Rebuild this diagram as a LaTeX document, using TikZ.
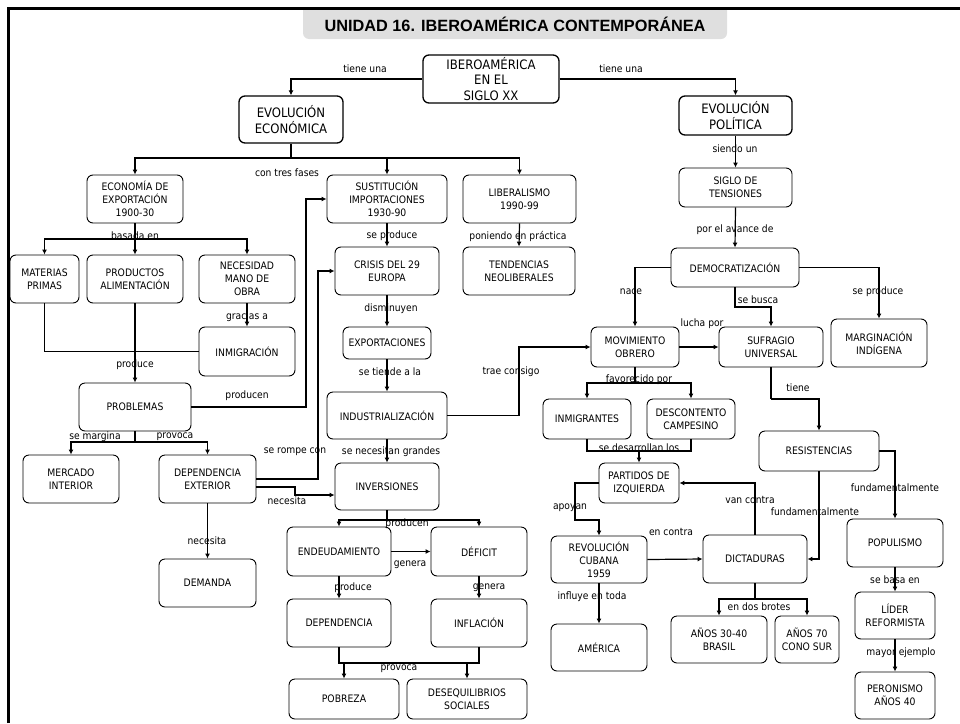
\documentclass[tikz,border=0pt]{standalone}
\usepackage{fontspec}
\setmainfont{DejaVu Sans Condensed}
\newfontfamily\titulofont{Liberation Sans}
\usetikzlibrary{arrows.meta}

\begin{document}
\begin{tikzpicture}[x=1pt, y=-1pt,
	caja/.style={draw, line width=0.9pt, rounded corners=6pt, align=center, inner sep=0pt, font=\fontsize{10.3}{12.8}\selectfont},
	grande/.style={caja, line width=1.3pt, font=\fontsize{13}{15.8}\selectfont},
	etiq/.style={inner sep=0pt, font=\fontsize{10.2}{12}\selectfont},
	linea/.style={line width=1.2pt},
	flecha/.style={linea, -{Latex[length=5pt,width=5pt]}}]
			\useasboundingbox (0,0) rectangle (960,723);
			%Titulo y marco
			\fill[gray!25] (303,8) {[rounded corners=6pt] -- (303,39) -- (727,39)} -- (727,8) -- cycle;
			\node[font=\titulofont\fontsize{16.3}{18}\selectfont\bfseries] (Titulo) at (515,24) {UNIDAD 16. IBEROAMÉRICA CONTEMPORÁNEA};
			\draw[line width=3pt] (8,723) -- (8,8) -- (960,8);
			%Nodos del mapa
			\node[grande, minimum width=136, minimum height=48] (Ibero) at (491,79) {IBEROAMÉRICA\\EN EL\\SIGLO XX};
			\node[grande, minimum width=104, minimum height=47] (EvEco) at (291,119.5) {EVOLUCIÓN\\ECONÓMICA};
			\node[grande, minimum width=113, minimum height=39] (EvPol) at (735.5,115.5) {EVOLUCIÓN\\POLÍTICA};
			\node[caja, minimum width=96, minimum height=48] (Econ) at (135,199) {ECONOMÍA DE\\EXPORTACIÓN\\1900-30};
			\node[caja, minimum width=120, minimum height=48] (Sust) at (387,199) {SUSTITUCIÓN\\IMPORTACIONES\\1930-90};
			\node[caja, minimum width=113, minimum height=48] (Lib) at (519.5,199) {LIBERALISMO\\1990-99};
			\node[caja, minimum width=113, minimum height=39] (Siglo) at (735.5,187.5) {SIGLO DE\\TENSIONES};
			\node[caja, minimum width=69, minimum height=48] (Materias) at (44.5,279) {MATERIAS\\PRIMAS};
			\node[caja, minimum width=96, minimum height=48] (Productos) at (135,279) {PRODUCTOS\\ALIMENTACIÓN};
			\node[caja, minimum width=96, minimum height=48] (Necesidad) at (247,279) {NECESIDAD\\MANO DE\\OBRA};
			\node[caja, minimum width=104, minimum height=48] (Crisis) at (387,271) {CRISIS DEL 29\\EUROPA};
			\node[caja, minimum width=112, minimum height=48] (Tend) at (519,271) {TENDENCIAS\\NEOLIBERALES};
			\node[caja, minimum width=128, minimum height=39] (Democ) at (735,267.5) {DEMOCRATIZACIÓN};
			\node[caja, minimum width=96, minimum height=49] (Inmigracion) at (247,351.5) {INMIGRACIÓN};
			\node[caja, minimum width=88, minimum height=32] (Export) at (387,343) {EXPORTACIONES};
			\node[caja, minimum width=88, minimum height=40] (MovObr) at (635,347) {MOVIMIENTO\\OBRERO};
			\node[caja, minimum width=104, minimum height=40] (Sufragio) at (771,347) {SUFRAGIO\\UNIVERSAL};
			\node[caja, minimum width=96, minimum height=48] (Margin) at (879,343) {MARGINACIÓN\\INDÍGENA};
			\node[caja, minimum width=112, minimum height=48] (Problemas) at (135,407) {PROBLEMAS};
			\node[caja, minimum width=120, minimum height=47] (Indust) at (387,415.5) {INDUSTRIALIZACIÓN};
			\node[caja, minimum width=88, minimum height=40] (Inmigrantes) at (587,419) {INMIGRANTES};
			\node[caja, minimum width=88, minimum height=40] (Descontento) at (691,419) {DESCONTENTO\\CAMPESINO};
			\node[caja, minimum width=120, minimum height=40] (Resist) at (819,451) {RESISTENCIAS};
			\node[caja, minimum width=96, minimum height=48] (Mercado) at (71,479) {MERCADO\\INTERIOR};
			\node[caja, minimum width=97, minimum height=48] (DepExt) at (207.5,479) {DEPENDENCIA\\EXTERIOR};
			\node[caja, minimum width=104, minimum height=47] (Inversiones) at (387,486.5) {INVERSIONES};
			\node[caja, minimum width=80, minimum height=40] (Partidos) at (639,483) {PARTIDOS DE\\IZQUIERDA};
			\node[caja, minimum width=104, minimum height=49] (Endeu) at (339,551.5) {ENDEUDAMIENTO};
			\node[caja, minimum width=96, minimum height=49] (Deficit) at (479,551.5) {DÉFICIT};
			\node[caja, minimum width=96, minimum height=48] (Populismo) at (895,543) {POPULISMO};
			\node[caja, minimum width=96, minimum height=47] (Revol) at (599,559.5) {REVOLUCIÓN\\CUBANA\\1959};
			\node[caja, minimum width=104, minimum height=48] (Dict) at (755,559) {DICTADURAS};
			\node[caja, minimum width=97, minimum height=48] (Demanda) at (207.5,583) {DEMANDA};
			\node[caja, minimum width=104, minimum height=48] (Dependencia) at (339,623) {DEPENDENCIA};
			\node[caja, minimum width=96, minimum height=48] (Inflacion) at (479,623) {INFLACIÓN};
			\node[caja, minimum width=80, minimum height=47] (Lider) at (895,615.5) {LÍDER\\REFORMISTA};
			\node[caja, minimum width=96, minimum height=47] (America) at (599,647.5) {AMÉRICA};
			\node[caja, minimum width=96, minimum height=47] (Anos3040) at (719,639.5) {AÑOS 30-40\\BRASIL};
			\node[caja, minimum width=64, minimum height=47] (Anos70) at (807,639.5) {AÑOS 70\\CONO SUR};
			\node[caja, minimum width=110, minimum height=40] (Pobreza) at (344,699) {POBREZA};
			\node[caja, minimum width=120, minimum height=40] (Deseq) at (467,699) {DESEQUILIBRIOS\\SOCIALES};
			\node[caja, minimum width=80, minimum height=47] (Peronismo) at (895,695.5) {PERONISMO\\AÑOS 40};
			%Puntos de reparto
			\coordinate (rEco) at (291,158);
			\coordinate (rExp) at (135,239);
			\coordinate (rProd) at (306,199);
			\coordinate (rProb) at (135,442);
			\coordinate (rRompe) at (318,271);
			\coordinate (rTrae) at (519,347);
			\coordinate (rInv) at (387,520);
			\coordinate (rProv) at (409,663);
			\coordinate (rBusca) at (735,307);
			\coordinate (rMov) at (635,383);
			\coordinate (rPart) at (639,451);
			\coordinate (rSuf) at (771,399);
			\coordinate (rApoy) at (575,520);
			\coordinate (rDict) at (755,599);
			%Conexiones
			\draw[flecha] (Ibero.west) -| (EvEco.north);
			\draw[flecha] (Ibero.east) -| (EvPol.north);
			\draw[linea] (EvEco.south) -- (rEco);
			\draw[flecha] (rEco) -| (Econ.north);
			\draw[flecha] (rEco) -| (Sust.north);
			\draw[flecha] (rEco) -| (Lib.north);
			\draw[flecha] (EvPol.south) -- (Siglo.north);
			\draw[flecha] (Siglo.south) -- (Democ.north);
			\draw[linea] (Econ.south) -- (rExp);
			\draw[flecha] (rExp) -| (Materias.north);
			\draw[flecha] (rExp) -| (Productos.north);
			\draw[flecha] (rExp) -| (Necesidad.north);
			\draw[flecha] (Necesidad.south) -- (Inmigracion.north);
			\draw[linea] (Materias.south) |- (Inmigracion.west);
			\draw[flecha] (Productos.south) -- (Problemas.north);
			\draw[flecha] (Problemas.east) -| (rProd) -- (Sust.west);
			\draw[linea] (Problemas.south) -- (rProb);
			\draw[flecha] (rProb) -| (Mercado.north);
			\draw[flecha] (rProb) -| (DepExt.north);
			\draw[flecha] (DepExt.south) -- (Demanda.north);
			\draw[flecha] (DepExt.east) -| (rRompe) -- (Crisis.west);
			\draw[flecha] ([yshift=-8pt]DepExt.east) -- (295,487) -- (295,495) -- ([yshift=-8.5pt]Inversiones.west);
			\draw[flecha] (Sust.south) -- (Crisis.north);
			\draw[flecha] (Lib.south) -- (Tend.north);
			\draw[flecha] (Crisis.south) -- (Export.north);
			\draw[flecha] (Export.south) -- (Indust.north);
			\draw[flecha] (Indust.south) -- (Inversiones.north);
			\draw[flecha] (Indust.east) -| (rTrae) -- (MovObr.west);
			\draw[linea] (Inversiones.south) -- (rInv);
			\draw[flecha] (rInv) -| (Endeu.north);
			\draw[flecha] (rInv) -| (Deficit.north);
			\draw[flecha] (Endeu.east) -- (Deficit.west);
			\draw[flecha] (Endeu.south) -- (Dependencia.north);
			\draw[flecha] (Deficit.south) -- (Inflacion.north);
			\draw[linea] (Dependencia.south) |- (rProv) -| (Inflacion.south);
			\draw[flecha] (Pobreza.north |- rProv) -- (Pobreza.north);
			\draw[flecha] (Deseq.north |- rProv) -- (Deseq.north);
			\draw[flecha] (Democ.west) -| (MovObr.north);
			\draw[flecha] (Democ.south) -- (rBusca) -| (Sufragio.north);
			\draw[flecha] (Democ.east) -| (Margin.north);
			\draw[flecha] (MovObr.east) -- (Sufragio.west);
			\draw[linea] (MovObr.south) -- (rMov);
			\draw[flecha] (rMov) -| (Inmigrantes.north);
			\draw[flecha] (rMov) -| (Descontento.north);
			\draw[linea] (Inmigrantes.south) |- (rPart) -| (Descontento.south);
			\draw[flecha] (rPart) -- (Partidos.north);
			\draw[linea] (Sufragio.south) -- (rSuf);
			\draw[flecha] (rSuf) -| (Resist.north);
			\draw[flecha] (Resist.east) -| (Populismo.north);
			\draw[flecha] (Resist.south) |- (Dict.east);
			\draw[flecha] (Dict.north) |- (Partidos.east);
			\draw[flecha] (Partidos.west) -| (rApoy) -| (Revol.north);
			\draw[flecha] (Revol.east) -- (Dict.west);
			\draw[flecha] (Revol.south) -- (America.north);
			\draw[linea] (Dict.south) -- (rDict);
			\draw[flecha] (rDict) -| (Anos3040.north);
			\draw[flecha] (rDict) -| (Anos70.north);
			\draw[flecha] (Populismo.south) -- (Lider.north);
			\draw[flecha] (Lider.south) -- (Peronismo.north);
			%Etiquetas de las conexiones
			\node[etiq] (eTiene1) at (365,69) {tiene una};
			\node[etiq] (eTiene2) at (621,69) {tiene una};
			\node[etiq] (eFases) at (287,173) {con tres fases};
			\node[etiq] (eSiendo) at (735,149) {siendo un};
			\node[etiq] (eBasada) at (135,236) {basada en};
			\node[etiq] (eProduce1) at (392,236) {se produce};
			\node[etiq] (ePoniendo) at (518,236) {poniendo en práctica};
			\node[etiq] (eAvance) at (735,230) {por el avance de};
			\node[etiq] (eGracias) at (247,317) {gracias a};
			\node[etiq] (eDismin) at (391,309) {disminuyen};
			\node[etiq] (eNace) at (631,292) {nace};
			\node[etiq] (eBusca) at (758,300) {se busca};
			\node[etiq] (eProduce2) at (878,292) {se produce};
			\node[etiq] (eLucha) at (702,324) {lucha por};
			\node[etiq] (eProduce3) at (135,365) {produce};
			\node[etiq] (eTiende) at (390,372) {se tiende a la};
			\node[etiq] (eTrae) at (511,372) {trae consigo};
			\node[etiq] (eFavor) at (639,380) {favorecido por};
			\node[etiq] (eTiene3) at (798,388) {tiene};
			\node[etiq] (eProducen1) at (247,396) {producen};
			\node[etiq] (eMargina) at (95,437) {se margina};
			\node[etiq] (eProvoca1) at (175,437) {provoca};
			\node[etiq] (eDesarr) at (639,448) {se desarrollan los};
			\node[etiq] (eRompe) at (295,452) {se rompe con};
			\node[etiq] (eNecesitan) at (391,452) {se necesitan grandes};
			\node[etiq] (eFund1) at (895,488) {fundamentalmente};
			\node[etiq] (eVan) at (750,500) {van contra};
			\node[etiq] (eNecesita1) at (287,501) {necesita};
			\node[etiq] (eApoyan) at (570,508) {apoyan};
			\node[etiq] (eFund2) at (815,512) {fundamentalmente};
			\node[etiq] (eProducen2) at (407,524) {producen};
			\node[etiq] (eContra) at (671,532) {en contra};
			\node[etiq] (eNecesita2) at (207,541) {necesita};
			\node[etiq] (eGenera1) at (410,565) {genera};
			\node[etiq] (eBasa) at (895,580) {se basa en};
			\node[etiq] (eProduce4) at (353,588) {produce};
			\node[etiq] (eGenera2) at (489,588) {genera};
			\node[etiq] (eInfluye) at (592,597) {influye en toda};
			\node[etiq] (eBrotes) at (759,607) {en dos brotes};
			\node[etiq] (eEjemplo) at (901,653) {mayor ejemplo};
			\node[etiq] (eProvoca2) at (399,669) {provoca};
		\end{tikzpicture}
\end{document}
